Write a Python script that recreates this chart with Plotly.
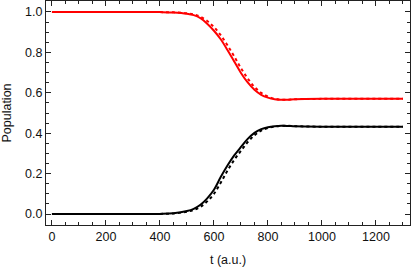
import plotly.graph_objects as go

t = [0, 100, 200, 300, 400, 450, 500, 525, 550, 575, 600, 625, 650, 675, 700,
     725, 750, 775, 800, 825, 850, 875, 900, 1000, 1100, 1200, 1300]

red_solid = [1.0, 1.0, 1.0, 1.0, 0.999, 0.997, 0.991, 0.984, 0.969, 0.942, 0.907,
             0.865, 0.812, 0.755, 0.698, 0.651, 0.615, 0.590, 0.576, 0.568, 0.565,
             0.566, 0.568, 0.570, 0.570, 0.570, 0.570]
red_dotted = [1.0, 1.0, 1.0, 1.0, 0.999, 0.998, 0.993, 0.988, 0.976, 0.955, 0.925,
              0.885, 0.835, 0.780, 0.722, 0.671, 0.629, 0.600, 0.581, 0.571, 0.566,
              0.566, 0.568, 0.570, 0.570, 0.570, 0.570]
black_solid = [0.0, 0.0, 0.0, 0.0, 0.001, 0.004, 0.015, 0.026, 0.046, 0.078, 0.120,
               0.183, 0.240, 0.290, 0.332, 0.372, 0.402, 0.420, 0.430, 0.435, 0.437,
               0.436, 0.434, 0.432, 0.432, 0.432, 0.432]
black_dotted = [0.0, 0.0, 0.0, 0.0, 0.001, 0.003, 0.012, 0.020, 0.036, 0.063, 0.100,
                0.155, 0.215, 0.268, 0.313, 0.356, 0.390, 0.413, 0.426, 0.433, 0.437,
                0.437, 0.435, 0.432, 0.432, 0.432, 0.432]

fig = go.Figure()
for y, color, dash in [(red_dotted, "#ff0000", "dot"), (red_solid, "#ff0000", "solid"),
                       (black_dotted, "#000000", "dot"), (black_solid, "#000000", "solid")]:
    fig.add_trace(go.Scatter(x=t, y=y, mode="lines", line=dict(color=color, width=2, dash=dash, shape="spline"),
                             showlegend=False, hoverinfo="skip"))

font = dict(family="Liberation Sans, Arial", size=12.5, color="#111111")
axis_common = dict(showgrid=False, zeroline=False, showline=True, linecolor="#222222", linewidth=1,
                   mirror="allticks", ticks="inside", ticklen=5, tickwidth=1, tickcolor="#222222",
                   tickfont=font, automargin=False)

fig.update_layout(
    width=412, height=269,
    margin=dict(l=46, r=2, t=1, b=44),
    paper_bgcolor="white", plot_bgcolor="white",
    xaxis=dict(range=[-22, 1326], tickvals=[0, 200, 400, 600, 800, 1000, 1200],
               minor=dict(dtick=50, tick0=0, ticks="inside", ticklen=3, tickcolor="#222222"),
               title=dict(text="t (a.u.)", font=font, standoff=12),
               **axis_common),
    yaxis=dict(range=[-0.054, 1.054], tickvals=[0, 0.2, 0.4, 0.6, 0.8, 1.0], tickformat=".1f",
               minor=dict(dtick=0.05, tick0=0, ticks="inside", ticklen=3, tickcolor="#222222"),
               title=dict(text="Population", font=font, standoff=12),
               **axis_common),
)

fig.write_html("out.html", config={"displayModeBar": False, "staticPlot": True},
               post_script="document.body.style.margin='0';document.body.style.overflow='hidden';")
